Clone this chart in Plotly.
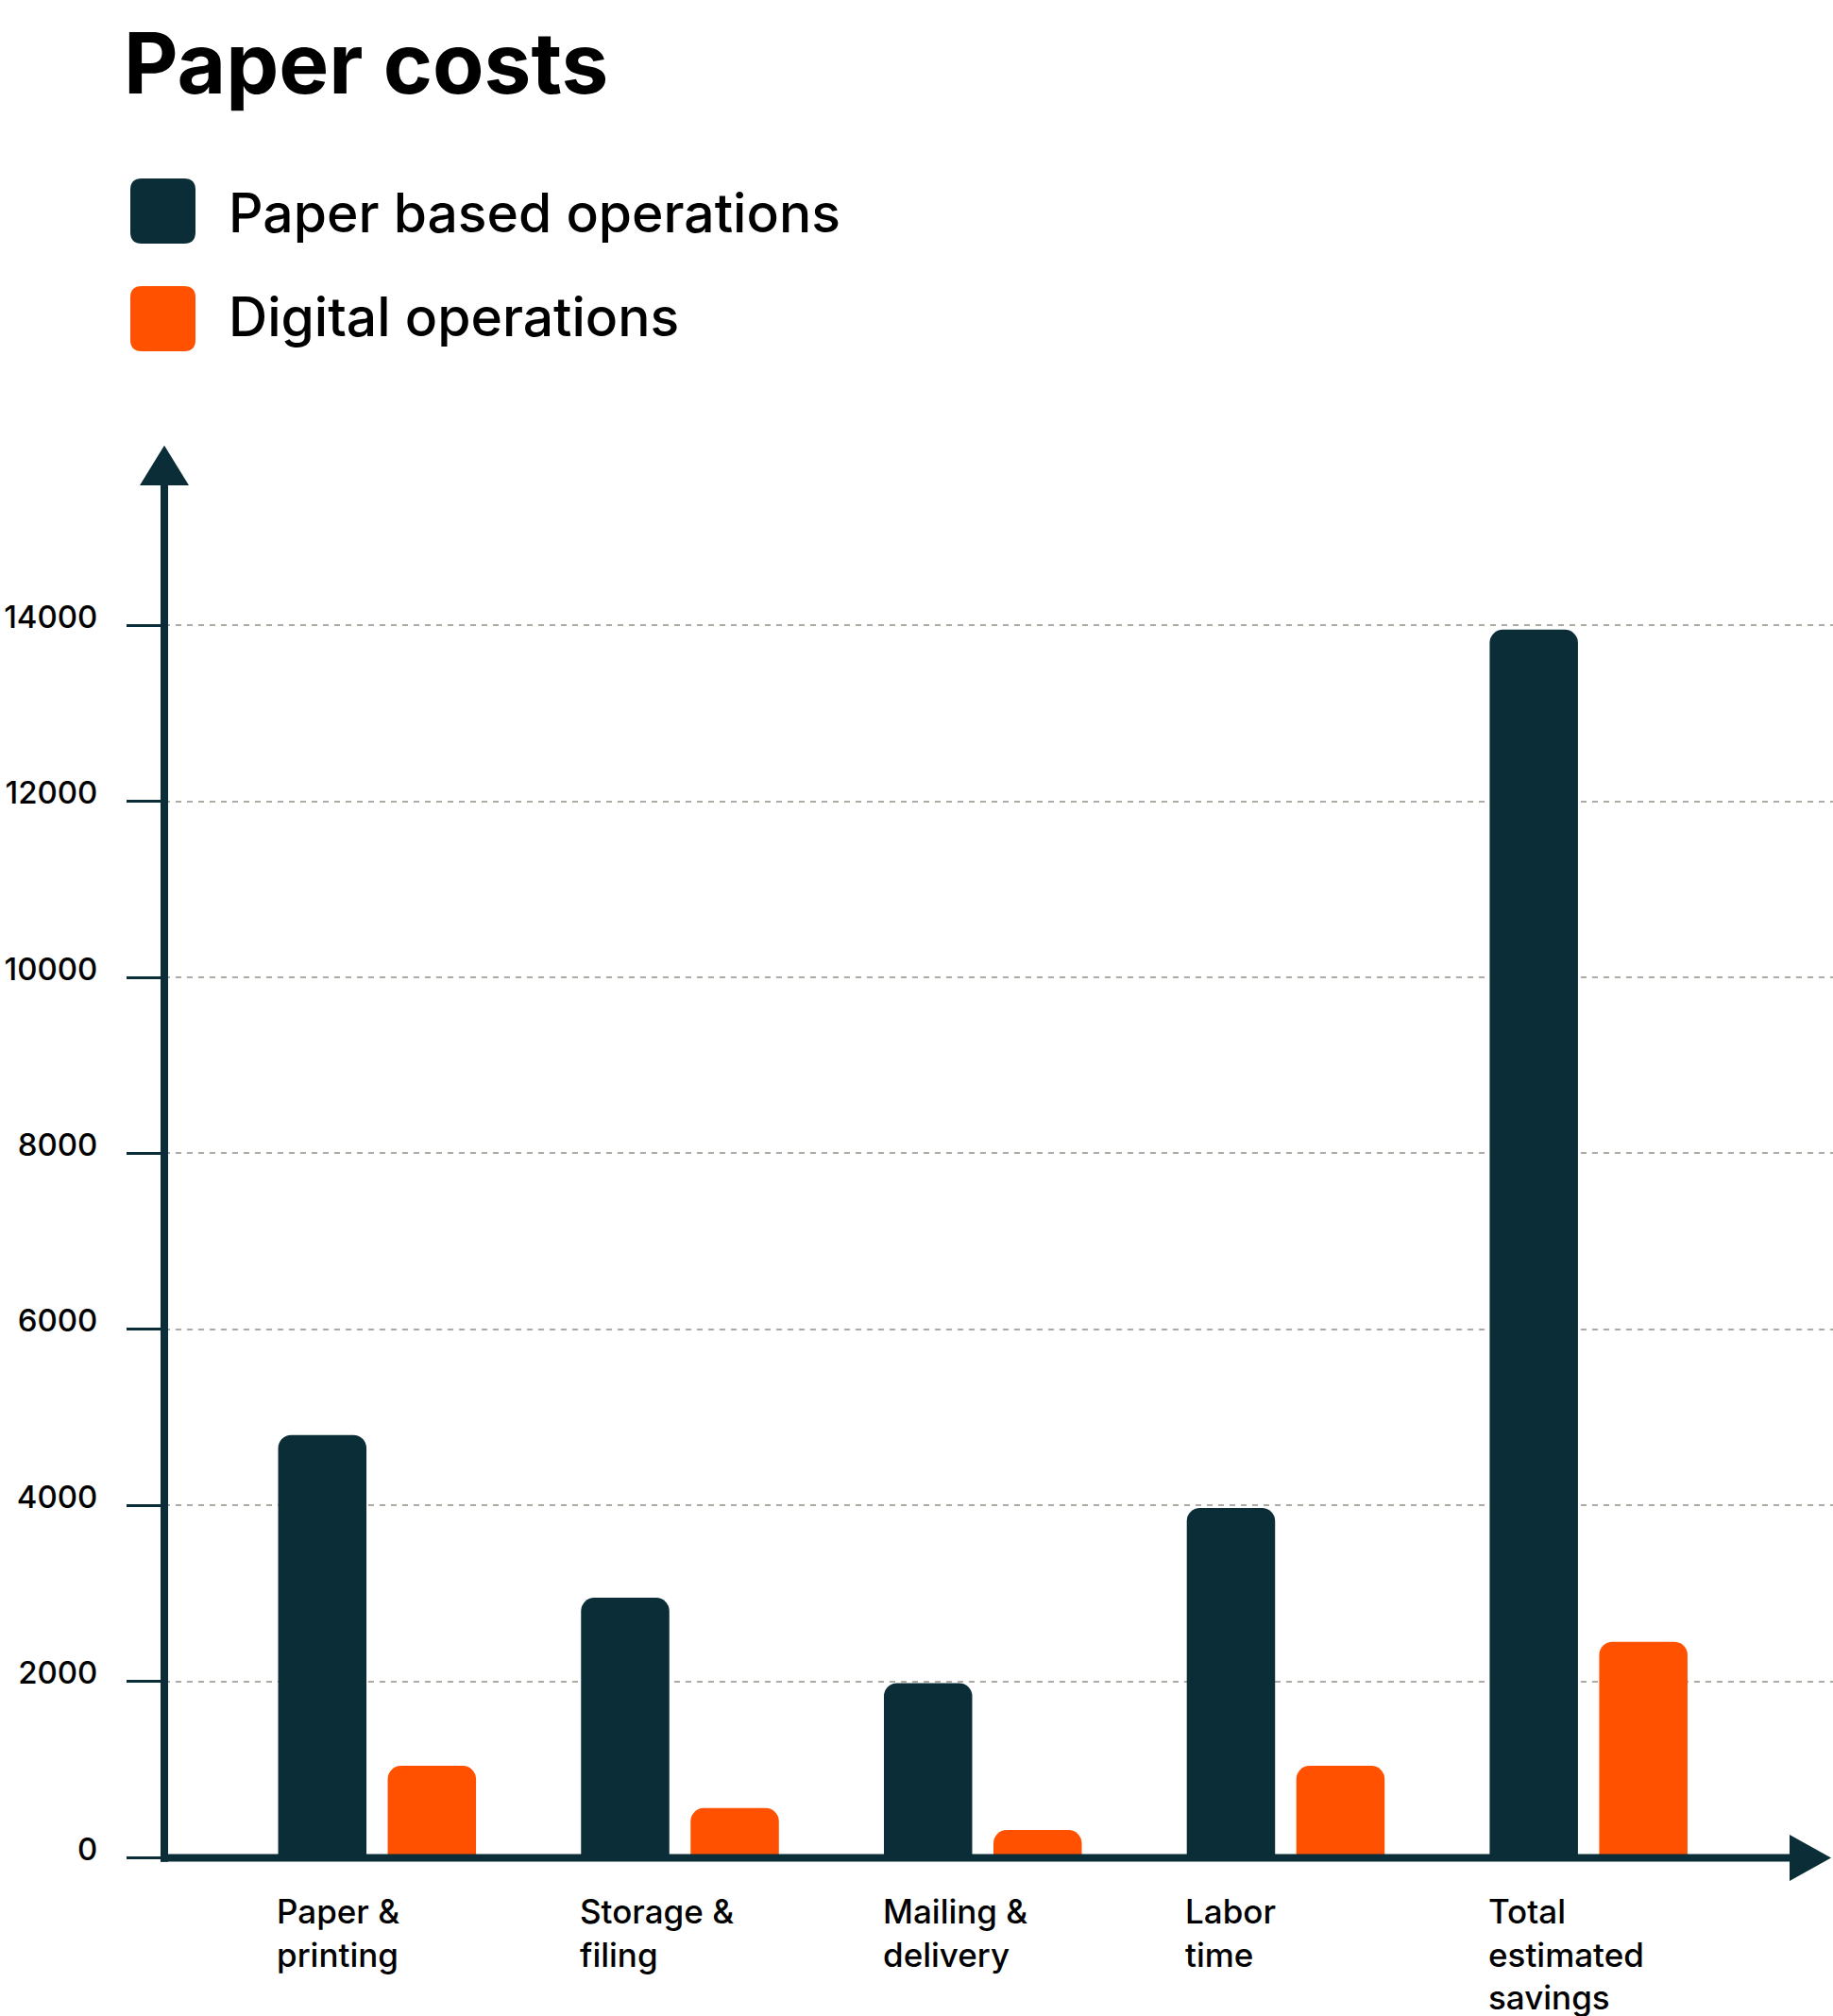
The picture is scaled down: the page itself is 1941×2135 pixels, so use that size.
import plotly.graph_objects as go

# ------------------------------------------------------------
# Data
# ------------------------------------------------------------
categories = ["Paper & printing", "Storage & filing", "Mailing & delivery",
              "Labor time", "Total estimated savings"]
category_labels = ["Paper &<br>printing", "Storage &<br>filing", "Mailing &<br>delivery",
                   "Labor<br>time", "Total<br>estimated<br>savings"]
paper_based = [4800, 2950, 1980, 3970, 13950]
digital = [1040, 560, 310, 1040, 2450]
y_ticks = [0, 2000, 4000, 6000, 8000, 10000, 12000, 14000]

series_names = ["Paper based operations", "Digital operations"]
DARK = "#0a2d38"
ORANGE = "#ff5100"
FONT = "Inter"

# ------------------------------------------------------------
# Page geometry (pixels)
# ------------------------------------------------------------
W, H = 1941, 2135
L, R, T, B = 174, 0, 472, 168
PW, PH = W - L - R, H - T - B
PX_PER_2000 = 186.4


def px(X):
    return (X - L) / PW


def py(Y):
    return (H - B - Y) / PH


def rounded_rect(x0, y0, x1, y1, r):
    # pixel box -> paper path with rounded corners
    a, b, c, d = px(x0), px(x1), py(y0), py(y1)
    rx, ry = r / PW, r / PH
    return (f"M {a + rx} {c} L {b - rx} {c} Q {b} {c} {b} {c - ry} "
            f"L {b} {d + ry} Q {b} {d} {b - rx} {d} L {a + rx} {d} "
            f"Q {a} {d} {a} {d + ry} L {a} {c - ry} Q {a} {c} {a + rx} {c} Z")


fig = go.Figure()
fig.add_trace(go.Bar(x=categories, y=paper_based, name=series_names[0],
                     marker=dict(color=DARK, line=dict(width=0))))
fig.add_trace(go.Bar(x=categories, y=digital, name=series_names[1],
                     marker=dict(color=ORANGE, line=dict(width=0))))

shapes = [
    # y axis + arrow
    dict(type="line", xref="paper", yref="paper", x0=0, x1=0,
         y0=py(1971.7), y1=py(513.8), line=dict(color=DARK, width=8), layer="above"),
    dict(type="path", xref="paper", yref="paper",
         path=f"M {px(148)} {py(514)} L {px(200)} {py(514)} L {px(174)} {py(471.7)} Z",
         fillcolor=DARK, line=dict(width=0), layer="above"),
    # x axis + arrow
    dict(type="line", xref="paper", yref="paper", x0=px(170), x1=px(1896),
         y0=py(1967.5), y1=py(1967.5), line=dict(color=DARK, width=8), layer="above"),
    dict(type="path", xref="paper", yref="paper",
         path=f"M {px(1895)} {py(1943)} L {px(1895)} {py(1992)} L {px(1939)} {py(1967.5)} Z",
         fillcolor=DARK, line=dict(width=0), layer="above"),
    # legend swatches
    dict(type="path", xref="paper", yref="paper", path=rounded_rect(138, 189, 207, 258, 12),
         fillcolor=DARK, line=dict(width=0)),
    dict(type="path", xref="paper", yref="paper", path=rounded_rect(138, 303, 207, 372, 12),
         fillcolor=ORANGE, line=dict(width=0)),
]

annotations = [
    dict(text="Paper costs", xref="paper", yref="paper", x=px(129), y=py(66),
         xanchor="left", yanchor="middle", showarrow=False,
         font=dict(family=FONT, size=89, color="#000000", weight="bold")),
    dict(text=series_names[0], xref="paper", yref="paper", x=px(240), y=py(225),
         xanchor="left", yanchor="middle", showarrow=False,
         font=dict(family=FONT, size=57, color="#000000", weight=500)),
    dict(text=series_names[1], xref="paper", yref="paper", x=px(240), y=py(336),
         xanchor="left", yanchor="middle", showarrow=False,
         font=dict(family=FONT, size=57, color="#000000", weight=500)),
]
for cat, lab in zip(categories, category_labels):
    annotations.append(dict(
        text=lab, x=cat, xref="x", y=0, yref="paper", xanchor="left", yanchor="top",
        xshift=-108, yshift=-34, align="left", showarrow=False,
        font=dict(family=FONT, size=35, color="#000000", weight=500)))

fig.update_layout(
    width=W, height=H,
    margin=dict(l=L, r=R, t=T, b=B, pad=0),
    paper_bgcolor="white", plot_bgcolor="white",
    showlegend=False,
    barmode="group", bargap=0.2766, bargroupgap=0.194, barcornerradius=14,
    font=dict(family=FONT, color="#000000"),
    shapes=shapes, annotations=annotations,
)
fig.update_xaxes(type="category", range=[-0.7025, 4.807], showticklabels=False,
                 showgrid=False, zeroline=False, showline=False, ticks="")
fig.update_yaxes(range=[0, 2000 * PH / PX_PER_2000], tickvals=y_ticks, tickformat="d",
                 ticks="outside", ticklen=39, tickwidth=3, tickcolor=DARK,
                 ticklabelstandoff=24, ticklabelshift=-9,
                 tickfont=dict(family=FONT, size=33, color="#000000", weight=500),
                 showgrid=True, gridcolor="#aeaba5", gridwidth=2, griddash="6px,6px",
                 zeroline=False, showline=False)

fig.write_html("out.html", config={"displayModeBar": False},
               post_script="document.body.style.margin='0';document.body.style.overflow='hidden';")
